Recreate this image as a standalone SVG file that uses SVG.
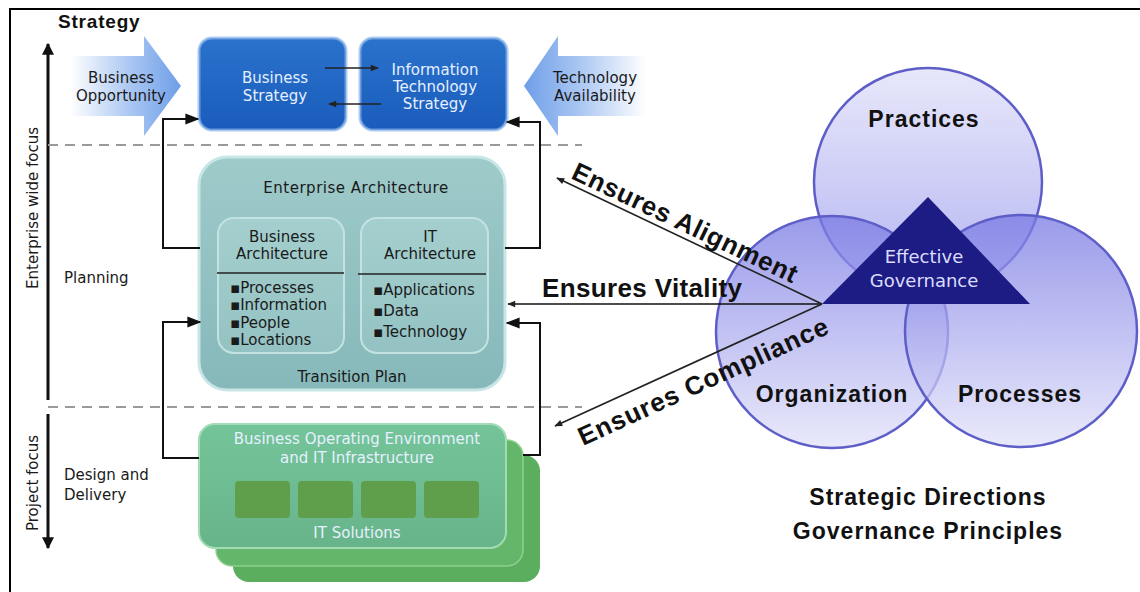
<svg xmlns="http://www.w3.org/2000/svg" width="1140" height="592" viewBox="0 0 1140 592">
<defs>
<style>
.sm{font-family:"DejaVu Sans","Liberation Sans",sans-serif;font-size:15px;fill:#1a1a1a}
.smw{font-family:"DejaVu Sans","Liberation Sans",sans-serif;font-size:15px;fill:#e6f0ff}
.big{font-family:"Liberation Sans",Arial,sans-serif;font-weight:bold;font-size:23px;fill:#111;letter-spacing:1px}
.ens{font-family:"Liberation Sans",Arial,sans-serif;font-weight:bold;font-size:26px;fill:#111}
.conn{fill:none;stroke:#111;stroke-width:2}
.thin{fill:none;stroke:#222;stroke-width:1.3}
.dash{stroke:#9a9a9a;stroke-width:2;stroke-dasharray:10 7}
.circ{stroke:#5e5ec8;stroke-width:2.5}
</style>
<marker id="ahb" viewBox="0 0 10 10" refX="9" refY="5" markerWidth="12" markerHeight="12" orient="auto" markerUnits="userSpaceOnUse"><path d="M0,0 L10,5 L0,10 z" fill="#111"/></marker>
<marker id="ahs" viewBox="0 0 10 10" refX="9" refY="5" markerWidth="10" markerHeight="8" orient="auto" markerUnits="userSpaceOnUse"><path d="M0,1 L10,5 L0,9 z" fill="#222"/></marker>
<marker id="ahx" viewBox="0 0 10 10" refX="9" refY="5" markerWidth="14" markerHeight="14" orient="auto" markerUnits="userSpaceOnUse"><path d="M0,1 L10,5 L0,9 z" fill="#111"/></marker>
<linearGradient id="gOpp" x1="0" y1="0" x2="1" y2="0"><stop offset="0" stop-color="#ffffff"/><stop offset="0.55" stop-color="#a9c6f2"/><stop offset="1" stop-color="#6e9ee8"/></linearGradient>
<linearGradient id="gTech" x1="0" y1="0" x2="1" y2="0"><stop offset="0" stop-color="#6e9ee8"/><stop offset="0.45" stop-color="#a9c6f2"/><stop offset="1" stop-color="#ffffff"/></linearGradient>
<linearGradient id="gBlue" x1="0" y1="0" x2="0" y2="1"><stop offset="0" stop-color="#2a72cc"/><stop offset="1" stop-color="#1a5cbc"/></linearGradient>
<linearGradient id="gEA" x1="0" y1="0" x2="0" y2="1"><stop offset="0" stop-color="#9fcaca"/><stop offset="1" stop-color="#86b8ba"/></linearGradient>
<linearGradient id="gIn" x1="0" y1="0" x2="0" y2="1"><stop offset="0" stop-color="#a5cfcf"/><stop offset="1" stop-color="#94c2c2"/></linearGradient>
<linearGradient id="gGreen" x1="0" y1="0" x2="0" y2="1"><stop offset="0" stop-color="#74c49a"/><stop offset="1" stop-color="#68b48a"/></linearGradient>
<linearGradient id="gTop" x1="0" y1="0" x2="0" y2="1"><stop offset="0" stop-color="#e2e2fa"/><stop offset="1" stop-color="#a0a0ee"/></linearGradient>
<linearGradient id="gBot" x1="0" y1="0" x2="0" y2="1"><stop offset="0" stop-color="#7878e4"/><stop offset="1" stop-color="#e2e2fa"/></linearGradient>
</defs>
<rect x="0" y="0" width="1140" height="592" fill="#ffffff"/>
<path d="M10,592 L10,9 L1140,9" fill="none" stroke="#000" stroke-width="2"/>

<g id="axis">
<text x="58" y="28" font-family="Liberation Sans,Arial,sans-serif" font-weight="bold" font-size="19" fill="#111" letter-spacing="0.8">Strategy</text>
<line x1="48" y1="400" x2="48" y2="44" stroke="#111" stroke-width="3" marker-end="url(#ahb)"/>
<line x1="48" y1="414" x2="48" y2="548" stroke="#111" stroke-width="3" marker-end="url(#ahb)"/>
<text class="sm" transform="translate(38,208) rotate(-90)" text-anchor="middle">Enterprise wide focus</text>
<text class="sm" transform="translate(38,483) rotate(-90)" text-anchor="middle">Project focus</text>
<text class="sm" x="64" y="283">Planning</text>
<text class="sm" x="64" y="480">Design and</text>
<text class="sm" x="64" y="500">Delivery</text>
<line class="dash" x1="48" y1="145" x2="582" y2="145"/>
<line class="dash" x1="48" y1="407" x2="582" y2="407"/>
</g>

<g id="business-opportunity">
<polygon points="70,56 144,56 144,36 181,86 144,136 144,116 70,116" fill="url(#gOpp)"/>
<text class="sm" x="121" y="83" text-anchor="middle">Business</text>
<text class="sm" x="121" y="101" text-anchor="middle">Opportunity</text>
</g>

<g id="technology-availability">
<polygon points="524,86 558,36 558,56 646,56 646,116 558,116 558,136" fill="url(#gTech)"/>
<text class="sm" x="595" y="83" text-anchor="middle">Technology</text>
<text class="sm" x="595" y="101" text-anchor="middle">Availability</text>
</g>

<g id="business-strategy">
<rect x="199" y="38" width="147" height="92" rx="13" fill="url(#gBlue)" stroke="#8ab4ea" stroke-width="3" stroke-opacity="0.7"/>
<text class="smw" x="275" y="83" text-anchor="middle">Business</text>
<text class="smw" x="275" y="101" text-anchor="middle">Strategy</text>
</g>

<g id="it-strategy">
<rect x="360" y="38" width="147" height="92" rx="13" fill="url(#gBlue)" stroke="#8ab4ea" stroke-width="3" stroke-opacity="0.7"/>
<text class="smw" x="435" y="75" text-anchor="middle">Information</text>
<text class="smw" x="435" y="92" text-anchor="middle">Technology</text>
<text class="smw" x="435" y="109" text-anchor="middle">Strategy</text>
</g>

<g id="enterprise-architecture">
<rect x="199" y="157" width="306" height="233" rx="28" fill="url(#gEA)" stroke="#c8e6e6" stroke-width="3"/>
<text class="sm" x="356" y="193" text-anchor="middle" letter-spacing="0.5">Enterprise Architecture</text>
<rect x="218" y="218" width="126" height="135" rx="16" fill="url(#gIn)" stroke="#c4e2e2" stroke-width="2"/>
<text class="sm" x="282" y="242" text-anchor="middle">Business</text>
<text class="sm" x="282" y="259" text-anchor="middle">Architecture</text>
<line x1="217" y1="273" x2="344" y2="273" stroke="#222" stroke-width="1.5"/>
<text class="sm" x="230" y="293">▪Processes</text>
<text class="sm" x="230" y="310">▪Information</text>
<text class="sm" x="230" y="328">▪People</text>
<text class="sm" x="230" y="345">▪Locations</text>
<rect x="361" y="218" width="127" height="135" rx="16" fill="url(#gIn)" stroke="#c4e2e2" stroke-width="2"/>
<text class="sm" x="430" y="242" text-anchor="middle">IT</text>
<text class="sm" x="430" y="259" text-anchor="middle">Architecture</text>
<line x1="358" y1="274" x2="486" y2="274" stroke="#222" stroke-width="1.5"/>
<text class="sm" x="373" y="295">▪Applications</text>
<text class="sm" x="373" y="316">▪Data</text>
<text class="sm" x="373" y="337">▪Technology</text>
<text class="sm" x="352" y="382" text-anchor="middle">Transition Plan</text>
</g>

<g id="operating-environment">
<rect x="233" y="455" width="307" height="127" rx="16" fill="#5aae5e"/>
<rect x="216" y="440" width="307" height="126" rx="16" fill="#63b66a" stroke="#8fd08f" stroke-width="1.5"/>
<rect x="199" y="424" width="307" height="124" rx="16" fill="url(#gGreen)" stroke="#a2dcb4" stroke-width="2"/>
<text class="smw" x="357" y="444" text-anchor="middle" font-size="14.5">Business Operating Environment</text>
<text class="smw" x="357" y="463" text-anchor="middle" font-size="14.5">and IT Infrastructure</text>
<rect x="235" y="481" width="55" height="37" rx="4" fill="#5f9e4a"/>
<rect x="298" y="481" width="55" height="37" rx="4" fill="#5f9e4a"/>
<rect x="361" y="481" width="55" height="37" rx="4" fill="#5f9e4a"/>
<rect x="424" y="481" width="55" height="37" rx="4" fill="#5f9e4a"/>
<text class="smw" x="357" y="538" text-anchor="middle">IT Solutions</text>
</g>

<g id="governance">
<circle class="circ" cx="928" cy="182" r="114" fill="url(#gTop)" fill-opacity="0.8"/>
<circle class="circ" cx="832" cy="332" r="116" fill="url(#gBot)" fill-opacity="0.75"/>
<circle class="circ" cx="1021" cy="331" r="116" fill="url(#gBot)" fill-opacity="0.75"/>
<polygon points="928,197 822,304 1030,304" fill="#1c1c84"/>
<text x="924" y="263" text-anchor="middle" font-family="DejaVu Sans,Liberation Sans,sans-serif" font-size="18" fill="#dcdcff">Effective</text>
<text x="924" y="287" text-anchor="middle" font-family="DejaVu Sans,Liberation Sans,sans-serif" font-size="18" fill="#dcdcff">Governance</text>
<text class="big" x="924" y="127" text-anchor="middle">Practices</text>
<text class="big" x="832" y="402" text-anchor="middle">Organization</text>
<text class="big" x="1020" y="402" text-anchor="middle">Processes</text>
</g>

<g id="connectors">
<polyline class="conn" points="200,248 163,248 163,119 198,119" marker-end="url(#ahx)"/>
<polyline class="conn" points="199,458 163,458 163,322 200,322" marker-end="url(#ahx)"/>
<polyline class="conn" points="505,248 540,248 540,122 507,122" marker-end="url(#ahx)"/>
<polyline class="conn" points="540,455 540,323 507,323" marker-end="url(#ahx)"/>
<line x1="523" y1="455" x2="541" y2="455" stroke="#111" stroke-width="2"/>
<line class="thin" x1="325" y1="68" x2="378" y2="68" marker-end="url(#ahs)"/>
<line class="thin" x1="381" y1="104" x2="329" y2="104" marker-end="url(#ahs)"/>
<line x1="822" y1="304" x2="508" y2="304" stroke="#111" stroke-width="1.6" marker-end="url(#ahs)"/>
<line x1="822" y1="304" x2="557" y2="178" stroke="#222" stroke-width="1.6" marker-end="url(#ahs)"/>
<line x1="822" y1="304" x2="555" y2="426" stroke="#222" stroke-width="1.6" marker-end="url(#ahs)"/>
</g>

<g id="ensures-labels">
<text class="ens" x="542" y="297" textLength="200">Ensures Vitality</text>
<text class="ens" transform="translate(570,178) rotate(25.4)" textLength="246">Ensures Alignment</text>
<text class="ens" transform="translate(583,446) rotate(-24.55)" textLength="272">Ensures Compliance</text>
</g>

<g id="caption">
<text class="big" x="928" y="505" text-anchor="middle" font-size="24">Strategic Directions</text>
<text class="big" x="928" y="539" text-anchor="middle" font-size="24">Governance Principles</text>
</g>
</svg>
